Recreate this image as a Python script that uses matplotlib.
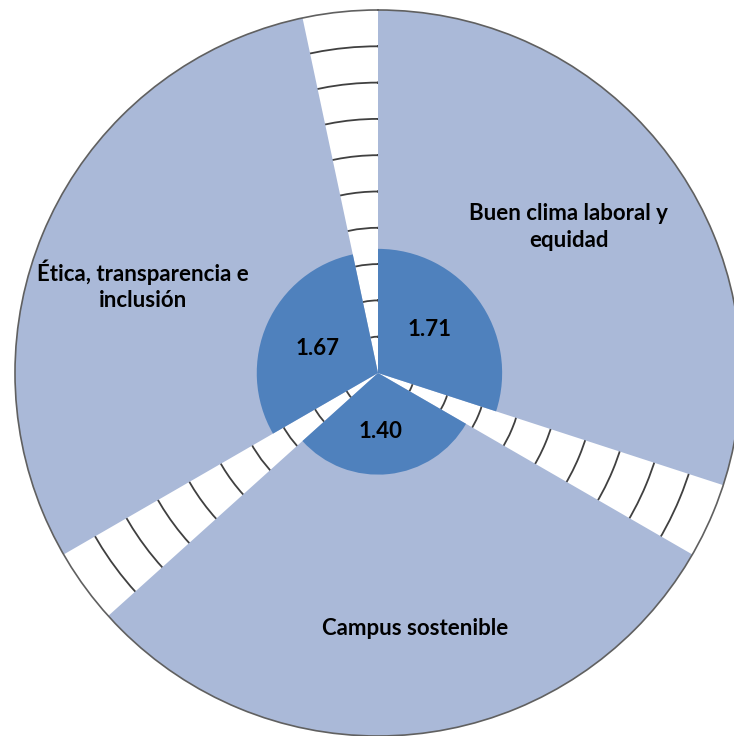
import numpy as np
import matplotlib
matplotlib.use('Agg')
import matplotlib.pyplot as plt

# three areas, in clockwise order starting at 12 o'clock
categories = ['Buen clima laboral y\nequidad', 'Campus sostenible', 'Ética, transparencia e\ninclusión']
values = [1.71, 1.40, 1.67]
max_values = [5, 5, 5]
value_labels = ['1.71', '1.40', '1.67']

LIGHT = '#AAB9D8'
DARK = '#4F81BD'
GRID = '#404040'

fig = plt.figure(figsize=(7.34, 7.36), dpi=100)
ax = fig.add_axes([15 / 734, 0, 726 / 734, 726 / 736], projection='polar')
ax.set_theta_zero_location('N')
ax.set_theta_direction(-1)

sector = np.deg2rad(120)
width = np.deg2rad(108)
starts = np.arange(len(values)) * sector

ax.bar(starts, max_values, width=width, align='edge', color=LIGHT, linewidth=0, zorder=2)
ax.bar(starts, values, width=width, align='edge', color=DARK, linewidth=0, zorder=3)

ax.set_ylim(0, 5)
ax.set_yticks(np.arange(0.5, 5, 0.5))
ax.set_xticks([])
ax.set_yticklabels([])
ax.set_axisbelow(True)
ax.xaxis.grid(False)
ax.yaxis.grid(True, color=GRID, linewidth=1.3)
ax.spines['polar'].set_color('#606060')
ax.spines['polar'].set_linewidth(1.2)
ax.spines['polar'].set_zorder(4)

font = dict(family=['Lato', 'DejaVu Sans'], fontweight='bold', fontsize=16,
            ha='center', va='center', zorder=5, linespacing=1.3)

# category label positions (angle in degrees, radius in data units)
cat_pos = [(52.6, 3.31), (171.8, 3.56), (290.5, 3.457)]
for text, (ang, r) in zip(categories, cat_pos):
    ax.text(np.deg2rad(ang), r, text, **font)

val_pos = [(50.4, 0.93), (178.0, 0.81), (292.6, 0.895)]
for text, (ang, r) in zip(value_labels, val_pos):
    ax.text(np.deg2rad(ang), r, text, **font)

fig.savefig('out.png', dpi=100)
